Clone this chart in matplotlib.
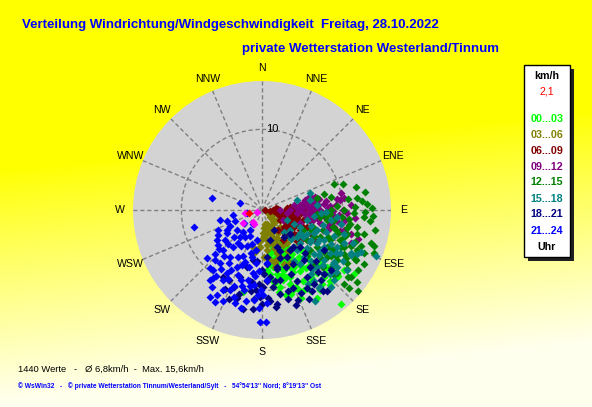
import numpy as np
import matplotlib
matplotlib.use("Agg")
import matplotlib.pyplot as plt
from matplotlib.patches import Rectangle

# ---------------- data (direction in degrees, speed in km/h) ----------------
title1 = "Verteilung Windrichtung/Windgeschwindigkeit  Freitag, 28.10.2022"
title2 = "private Wetterstation Westerland/Tinnum"
footer1 = "1440 Werte   -   \u00d8 6,8km/h  -  Max. 15,6km/h"
footer2 = "\u00a9 WsWin32   -   \u00a9 private Wetterstation Tinnum/Westerland/Sylt   -   54\u00b054'13'' Nord; 8\u00b019'13'' Ost"
compass = ["N", "NNE", "NE", "ENE", "E", "ESE", "SE", "SSE",
           "S", "SSW", "SW", "WSW", "W", "WNW", "NW", "NNW"]
ring_values = [10]
r_max = 16
current_speed_label = "2,1"
group_labels = ["00...03", "03...06", "06...09", "09...12",
                "12...15", "15...18", "18...21", "21...24"]
group_colors = ["#00ff00", "#808000", "#800000", "#800080",
                "#008000", "#008080", "#000080", "#0000ff"]

dir_00_03 = [160, 154, 163, 144, 140, 125, 170, 193, 163, 154, 149, 155, 151, 148, 157, 156, 155, 150,
             144, 139, 137, 136, 132, 126, 169, 167, 163, 159, 167, 171, 173, 139, 136, 134, 152, 159,
             173, 149, 148, 137, 146, 146, 133, 131, 127, 172, 161, 160, 165, 157,
             150, 155, 162, 166, 170, 168, 158, 152, 146, 141, 138, 143, 147, 153, 160, 164, 156, 135,
             131, 175, 171,
             165, 160, 155, 168, 162, 156, 150, 170, 164, 158, 152, 146, 166, 160, 154, 148, 142, 157,
             151, 163, 145, 140]
spd_00_03 = [6.6, 9.8, 4.8, 12.3, 15.2, 13.9, 5.5, 10.5, 6.1, 6.0, 6.8, 7.3, 8.1, 8.9, 9.0, 10.5, 11.1, 10.2,
             10.3, 10.4, 11.3, 12.2, 12.5, 12.6, 7.2, 8.1, 9.1, 9.8, 9.8, 8.9, 8.0, 6.0, 6.9, 7.8, 4.7, 4.0,
             6.7, 11.7, 12.8, 8.5, 8.0, 5.5, 9.8, 10.7, 11.1, 9.7, 11.0, 7.9, 6.9, 6.8,
             5.6, 6.2, 7.6, 8.6, 9.2, 10.4, 10.6, 11.2, 10.8, 11.8, 12.6, 9.0, 7.6, 8.6, 8.8, 11.0, 12.0, 11.0,
             12.5, 7.5, 6.0,
             4.0, 4.4, 4.2, 5.2, 5.6, 5.8, 5.4, 6.4, 6.6, 6.8, 7.0, 6.6, 7.4, 7.6, 7.8, 7.8, 7.4, 5.0,
             6.2, 8.4, 8.6, 9.0]

dir_03_06 = [160, 157, 183, 161, 130, 187, 193, 152, 171, 165, 164, 161, 158, 159, 158, 154, 140, 124,
             133, 132, 171, 181, 177, 131, 104, 118, 143, 145, 149, 164, 171, 167, 173, 115, 156, 151,
             150, 145, 155, 162, 168, 175, 185, 190, 178, 166, 140, 135, 125, 148, 170,
             160, 150, 165, 172, 155, 145, 175, 168]
spd_03_06 = [1.8, 3.6, 4.6, 5.7, 1.3, 5.0, 4.7, 7.5, 2.3, 3.0, 4.3, 5.0, 5.4, 6.2, 7.2, 2.3, 2.2, 2.2,
             3.1, 3.9, 3.8, 3.75, 2.9, 1.6, 1.7, 0.9, 5.2, 6.1, 5.0, 6.5, 6.3, 7.3, 5.0, 2.9, 3.0, 3.9,
             2.6, 3.5, 4.6, 5.0, 4.2, 3.2, 4.0, 5.4, 5.8, 6.8, 4.6, 2.0, 1.4, 6.0, 2.4,
             3.0, 2.8, 3.8, 4.4, 4.0, 3.0, 2.2, 1.8]

dir_06_09 = [100, 118, 95, 83, 83, 124, 145, 90, 90, 103, 95, 103, 104, 108, 111, 121, 127, 129,
             101, 104, 110, 116, 118, 119, 128, 87, 86, 84, 90, 102, 120, 134, 141, 90, 93, 125,
             88, 92, 97, 100, 106, 112, 115, 122, 126, 130, 135, 98, 94, 87, 85, 90, 96, 108, 113,
             118, 124, 132, 138, 104, 110]
spd_06_09 = [1.0, 3.5, 4.8, 3.5, 5.0, 6.7, 4.6, 0.4, 1.4, 1.9, 2.3, 2.7, 3.6, 4.1, 4.6, 4.1, 4.9, 4.0,
             4.4, 5.3, 6.0, 6.7, 5.4, 2.6, 3.4, 4.3, 3.1, 1.8, 5.2, 6.1, 7.4, 4.8, 3.2, 6.8, 3.9, 5.8,
             2.0, 2.8, 3.3, 4.0, 4.8, 5.5, 3.0, 3.8, 5.2, 4.4, 3.6, 5.6, 6.0, 4.2, 5.8, 6.5, 1.5, 2.2, 3.8,
             4.5, 6.2, 5.8, 4.2, 3.0, 6.8]

dir_09_12 = [78, 90, 78, 95, 107, 90, 109, 81, 86, 83, 80, 84, 93, 101, 98, 100, 104, 105,
             96, 94, 94, 101, 103, 99, 95, 90, 81, 98, 87, 90, 77, 82, 87, 82, 82, 92,
             104, 106, 115, 108, 74, 76,
             79, 82, 85, 88, 91, 94, 97, 100, 103, 106, 92, 88, 84, 80, 76, 86, 90, 95,
             99, 102, 96, 93, 89, 83, 105, 110, 87]
spd_09_12 = [6.1, 7.25, 10.0, 9.0, 12.4, 2.25, 5.0, 5.2, 5.6, 6.5, 6.9, 7.7, 8.1, 8.7, 9.4, 9.9, 10.5, 11.4,
             7.7, 6.8, 6.0, 6.5, 7.4, 5.6, 4.3, 3.5, 4.0, 3.1, 4.8, 6.0, 5.5, 4.8, 8.5, 9.4, 10.3, 10.6,
             8.4, 9.9, 2.9, 8.0, 6.0, 6.8,
             7.2, 8.0, 7.0, 8.2, 8.8, 9.6, 10.4, 11.0, 9.2, 8.6, 5.0, 4.5, 6.2, 5.8, 6.4, 9.2, 10.0, 11.6,
             7.0, 6.0, 5.5, 7.6, 6.6, 9.8, 10.0, 11.8, 11.0]

dir_12_15 = [70, 83, 89, 93, 111, 130, 132, 108, 136, 111, 87, 92, 83, 79, 75, 78, 87, 90,
             99, 100, 103, 107, 110, 112, 118, 124, 124, 124, 124, 117, 114, 107, 108, 118, 122, 127,
             132, 130, 130, 129, 136, 130, 124, 115, 120, 119, 118, 103, 99, 97, 108, 133, 116, 112,
             115, 122, 113, 95, 96, 94, 94, 93,
             72, 76, 80, 85, 88, 91, 96, 100, 104, 106, 109, 113, 116, 120, 125, 128, 122, 119,
             112, 105, 98, 95, 90, 126, 132, 127, 108, 102, 114, 118]
spd_12_15 = [9.5, 11.9, 13.7, 13.8, 14.9, 15.6, 14.5, 8.0, 8.0, 10.4, 13.1, 11.4, 10.7, 8.7, 7.9, 7.0, 9.3, 10.2,
             11.1, 12.0, 13.0, 14.1, 13.1, 11.9, 11.5, 11.2, 10.3, 9.3, 8.2, 7.2, 9.3, 9.8, 10.7, 13.0, 14.0, 13.8,
             13.7, 12.2, 11.1, 9.3, 9.3, 7.8, 6.7, 8.0, 9.3, 10.2, 14.3, 9.1, 8.2, 7.3, 6.7, 10.4, 5.7, 6.5,
             10.8, 12.5, 12.8, 10.0, 10.9, 12.7, 6.8, 8.5,
             10.5, 12.0, 13.0, 12.5, 11.5, 12.8, 13.5, 14.2, 12.2, 11.0, 12.2, 13.8, 12.8, 12.0, 12.8, 13.5, 10.8, 9.8,
             8.8, 9.5, 9.0, 8.0, 8.6, 10.0, 12.0, 14.8, 14.6, 10.8, 11.2, 13.2]

dir_15_18 = [71, 112, 150, 134, 123, 121, 126, 128, 131, 130, 122, 121, 116, 116, 116, 119, 122, 129,
             136, 143, 136, 138, 143, 144, 127, 122, 116, 114, 113, 112, 103, 97, 93, 78, 74, 118,
             110, 109, 110, 112, 115, 138, 139, 148, 127, 125, 133, 145, 135, 135, 130, 125,
             85, 92, 98, 104, 108, 114, 118, 124, 128, 132, 136, 140, 144, 148, 130, 126, 120, 117,
             113, 110, 106, 100, 95, 139, 133, 121]
spd_15_18 = [6.3, 15.2, 13.1, 12.5, 6.1, 8.9, 4.3, 5.5, 6.3, 7.3, 7.1, 8.0, 8.5, 9.5, 10.4, 11.1, 10.0, 9.9,
             9.8, 10.0, 11.0, 12.8, 12.0, 10.9, 11.7, 11.9, 12.3, 5.2, 4.3, 3.3, 5.7, 6.5, 7.3, 6.1, 4.5, 6.3,
             7.3, 8.4, 9.5, 11.0, 13.0, 7.8, 6.6, 7.4, 11.1, 12.9, 11.6, 8.2, 5.0, 3.9, 8.4, 8.8,
             6.8, 8.0, 8.6, 7.8, 6.4, 7.0, 8.0, 7.2, 9.0, 10.2, 8.8, 9.6, 12.0, 10.8, 12.0, 11.0, 10.6, 12.4,
             13.4, 12.0, 10.6, 10.0, 9.4, 6.0, 4.8, 5.5]

dir_18_21 = [180, 176, 172, 168, 164, 160, 180, 185, 191, 200, 205, 210, 198, 186, 174, 165, 156, 140,
             134, 140, 141, 141, 130, 150, 175, 190, 195, 173, 179, 166, 158, 154, 146, 140, 133, 123,
             152, 158, 165, 190, 196, 205, 184, 188, 181, 171, 175, 150, 155, 145, 136, 131, 140, 156, 157,
             178, 182, 170, 162, 158, 152, 148, 143, 138, 185, 195, 200, 172, 166, 160, 150, 145, 135, 188, 176]
spd_18_21 = [7.5, 8.8, 9.7, 10.7, 11.5, 12.5, 11.7, 11.1, 12.5, 10.2, 10.8, 9.6, 8.8, 6.3, 5.9, 7.3, 8.7, 8.1,
             6.6, 11.4, 12.9, 4.3, 4.6, 2.9, 6.7, 6.3, 7.3, 8.4, 9.6, 9.0, 10.4, 9.8, 10.0, 9.3, 9.2, 9.1,
             6.6, 4.9, 3.9, 8.9, 11.3, 9.6, 10.0, 10.1, 10.8, 11.8, 11.3, 11.1, 11.4, 11.2, 11.0, 11.3, 6.0, 5.5, 7.7,
             8.0, 9.2, 9.0, 10.5, 12.0, 12.5, 11.8, 12.6, 10.4, 12.3, 10.8, 11.8, 12.2, 7.5, 6.4, 7.8, 6.0, 7.6, 9.0, 11.0]

dir_21_24 = [283, 288, 256, 192, 181, 178, 257, 260, 258, 240, 236, 224, 223, 219, 213, 208, 202, 197,
             189, 181, 176, 175, 186, 202, 218, 220, 211, 213, 234, 204, 209, 209, 188, 203, 190, 214,
             218, 217, 198, 206, 193, 232, 231,
             195, 198, 200, 207, 210, 212, 215, 220, 225, 228, 226, 222, 216, 207, 200, 195, 191, 186,
             183, 185, 190, 196, 203, 211, 215, 222, 227, 232, 236, 243, 248, 252, 246, 240, 229, 212,
             205, 197, 192, 188, 183, 179, 182, 177, 186, 193, 206, 216, 207, 200]
spd_21_24 = [6.4, 2.9, 8.7, 12.4, 13.9, 13.9, 5.35, 3.6, 1.95, 5.0, 6.7, 6.9, 8.5, 9.6, 11.4, 11.9, 10.7, 9.1,
             9.6, 9.9, 8.7, 6.6, 6.6, 6.2, 5.8, 4.3, 2.9, 2.0, 2.8, 7.7, 9.0, 9.9, 7.9, 4.9, 3.8, 7.0,
             8.4, 10.8, 11.3, 11.0, 10.2, 4.0, 5.9,
             5.5, 6.8, 7.2, 6.5, 5.2, 7.8, 8.9, 7.4, 6.0, 7.2, 4.8, 3.6, 5.0, 8.4, 8.6, 9.8, 8.8, 9.3,
             10.6, 11.2, 11.5, 12.0, 12.3, 12.6, 10.0, 9.6, 8.0, 7.0, 5.2, 4.5, 3.6, 4.6, 6.0, 6.3, 9.0, 4.0,
             3.5, 4.4, 5.9, 5.0, 7.6, 10.6, 12.2, 11.5, 8.2, 7.2, 9.5, 10.4, 12.8, 10.0]

dir_recent = [259, 245, 217, 208, 235]
spd_recent = [2.1, 0.7, 1.8, 2.0, 2.9]
dir_current = [255]
spd_current = [1.65]

group_dirs = [dir_00_03, dir_03_06, dir_06_09, dir_09_12, dir_12_15, dir_15_18, dir_18_21, dir_21_24]
group_spds = [spd_00_03, spd_03_06, spd_06_09, spd_09_12, spd_12_15, spd_15_18, spd_18_21, spd_21_24]

# ---------------- figure ----------------
W, H = 592, 407
fig = plt.figure(figsize=(W / 100, H / 100), dpi=100)
FONT = "Liberation Sans"

bg = fig.add_axes([0, 0, 1, 1])
bg.axis("off")
yy, xx = np.mgrid[0:H, 0:W]
t = np.clip((yy - 140 + 0.10 * (xx - 300)) / 230.0, 0, 1)
img = np.dstack([np.ones_like(t), np.ones_like(t), 0.93 * t ** 0.9])
bg.imshow(img, extent=[0, 1, 0, 1], aspect="auto", origin="upper")
bg.set_xlim(0, 1); bg.set_ylim(0, 1)

cx, cy, R = 262, 210, 129
ax = fig.add_axes([(cx - R) / W, (H - cy - R) / H, 2 * R / W, 2 * R / H], projection="polar")
ax.set_theta_zero_location("N")
ax.set_theta_direction(-1)
ax.set_ylim(0, r_max)
ax.set_facecolor("#d3d3d3")
ax.grid(False)
ax.set_xticks([]); ax.set_yticks([])
ax.spines["polar"].set_visible(False)

dash = (0, (3, 2))
for i in range(len(compass)):
    th = np.deg2rad(i * 22.5)
    ax.plot([th, th], [0, r_max], ls=dash, color="#808080", lw=1)
thc = np.linspace(0, 2 * np.pi, 361)
for rv in ring_values:
    ax.plot(thc, np.full_like(thc, rv), ls=dash, color="#808080", lw=1)
    ax.annotate(str(rv), xy=(0, rv), xytext=(10, 0), textcoords="offset pixels",
                ha="center", va="center", fontsize=8, family=FONT, color="black")

for i, lab in enumerate(compass):
    th = np.deg2rad(i * 22.5)
    ax.text(th, r_max * 142 / 129, lab, ha="center", va="center", fontsize=7.6,
            family=FONT, color="black", clip_on=False)

for d, s, c in zip(group_dirs, group_spds, group_colors):
    ax.plot(np.deg2rad(d), s, ls="none", marker="D", ms=3.8, color=c, mec="none")
ax.plot(np.deg2rad(dir_recent), spd_recent, ls="none", marker="D", ms=3.8, color="#ff00ff", mec="none")
ax.plot(np.deg2rad(dir_current), spd_current, ls="none", marker="D", ms=3.8, color="#ff0000", mec="none")

renderer = fig.canvas.get_renderer()

def ftext(x, y, s, target_w=None, **kw):
    tx = fig.text(x / W, 1 - y / H, s, **kw)
    if target_w:
        w = tx.get_window_extent(renderer).width
        tx.set_fontsize(tx.get_fontsize() * target_w / w)
    return tx

ftext(22, 25, title1, 416, color="#0000ff", weight="bold", family=FONT, va="center", fontsize=9)
ftext(242, 49, title2, 258, color="#0000ff", weight="bold", family=FONT, va="center", fontsize=9)
ftext(18, 369, footer1, 186, color="black", family=FONT, va="center", fontsize=8)
ftext(18, 386, footer2, 309, color="#0000ff", weight="bold", family=FONT, va="center", fontsize=6)

# legend box
def prect(x0, y0, x1, y1, **kw):
    r = Rectangle((x0 / W, 1 - y1 / H), (x1 - x0) / W, (y1 - y0) / H,
                  transform=fig.transFigure, **kw)
    fig.patches.append(r)

prect(528, 69, 574, 261, facecolor="#202020", edgecolor="none")
prect(524, 65, 570, 257, facecolor="white", edgecolor="black", lw=1)
lx = 547
ftext(lx, 76, "km/h", color="black", weight="bold", family=FONT, ha="center", va="center", fontsize=7.7)
ftext(lx, 91, current_speed_label, color="#ff0000", family=FONT, ha="center", va="center", fontsize=7.7)
for i, (lab, c) in enumerate(zip(group_labels, group_colors)):
    ftext(lx, 118.5 + 16.0 * i, lab, color=c, weight="bold", family=FONT, ha="center", va="center", fontsize=7.7)
ftext(lx, 246.5, "Uhr", color="black", weight="bold", family=FONT, ha="center", va="center", fontsize=7.7)

fig.savefig("out.png", dpi=100)
